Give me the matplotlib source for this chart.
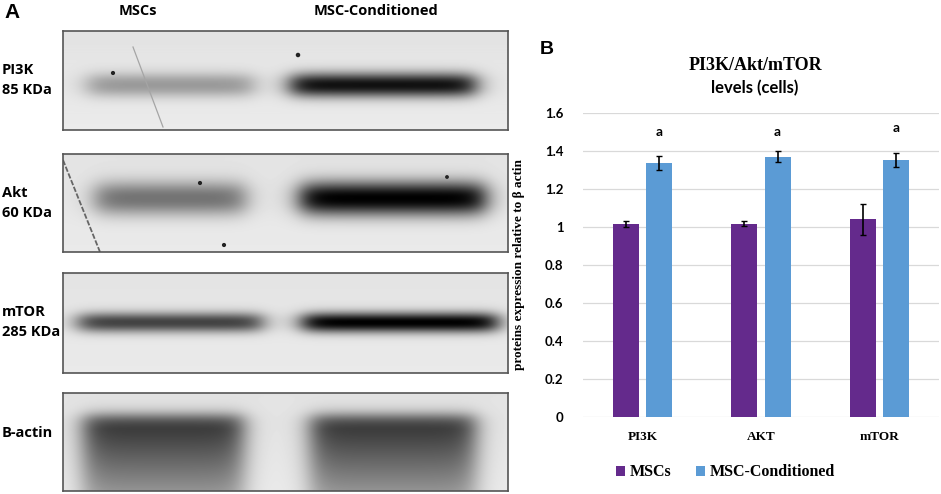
import matplotlib
matplotlib.use("Agg")
import matplotlib.pyplot as plt
import numpy as np

# Bar chart data (panel B)
targets = ["PI3K", "AKT", "mTOR"]
msc_values = [1.014, 1.017, 1.04]
msc_errors = [0.015, 0.012, 0.08]
cond_values = [1.338, 1.37, 1.354]
cond_errors = [0.036, 0.03, 0.037]
sig_letters = ["a", "a", "a"]
sig_heights = [1.50, 1.50, 1.52]
series_names = ["MSCs", "MSC-Conditioned"]

# Blot panel labels (panel A)
blot_labels = ["PI3K\n85 KDa", "Akt\n60 KDa", "mTOR\n285 KDa", "B-actin"]
lane_names = ["MSCs", "MSC-Conditioned"]
# band darkness for MSCs / MSC-Conditioned lanes
band_dark_msc = [0.30, 0.45, 0.64, 0.68]
band_dark_cond = [0.84, 0.9, 0.9, 0.68]

PURPLE = "#642A8C"
BLUE = "#5B9BD5"
W, H = 941, 494

fig = plt.figure(figsize=(W / 100, H / 100), dpi=100)


def rect(x0, y0, x1, y1):
    return [x0 / W, 1 - y1 / H, (x1 - x0) / W, (y1 - y0) / H]


# ---- Panel A: blots ----
panel_boxes = [(63, 31, 508, 130), (63, 154, 508, 252),
               (63, 273, 508, 373), (63, 393, 508, 491)]
# lane x-ranges and band centre/half-height inside each panel (pixels)
lanes_msc = [(87, 253), (95, 245), (78, 262), (83, 243)]
lanes_cond = [(290, 475), (300, 485), (302, 497), (310, 475)]
band_y = [(54, 12), (44, 17), (49, 10), (36, 14)]
label_y = [80, 203, 322, 433]


def sig(v):
    return 1.0 / (1.0 + np.exp(-v))


for i, (x0, y0, x1, y1) in enumerate(panel_boxes):
    pw, ph = x1 - x0, y1 - y0
    xx, yy = np.meshgrid(np.arange(pw), np.arange(ph))
    img = np.full((ph, pw), 0.89) + 0.03 * (yy / ph)
    yc, hh = band_y[i]
    for (lx0, lx1), dark in [(lanes_msc[i], band_dark_msc[i]),
                             (lanes_cond[i], band_dark_cond[i])]:
        lx0 -= x0
        lx1 -= x0
        sx = sig((xx - lx0) / 7.0) * sig((lx1 - xx) / 7.0)
        if i == 3:
            sy = sig((yy - (yc - hh)) / 4.0) * (1 - 0.5 * np.clip((yy - yc) / (ph - yc), 0, 1))
        else:
            sy = np.exp(-np.abs((yy - yc) / hh) ** 2.2)
        img = img - dark * sx * sy
    img = np.clip(img, 0, 1)
    ax = fig.add_axes(rect(x0, y0, x1, y1))
    ax.imshow(img, cmap="gray", vmin=0, vmax=1, aspect="auto",
              extent=[x0, x1, y1, y0], interpolation="bilinear")
    ax.set_xlim(x0, x1)
    ax.set_ylim(y1, y0)
    ax.set_xticks([])
    ax.set_yticks([])
    for s in ax.spines.values():
        s.set_color("#555555")
        s.set_linewidth(1.2)
    if i == 0:
        ax.plot([133, 163], [47, 127], color="#a5a5a5", lw=0.9)
        ax.scatter([113, 298], [73, 55], s=[4, 5], color="#222222", zorder=3)
    if i == 1:
        ax.plot([63, 100], [160, 252], color="#666666", lw=1.3, ls=(0, (3, 1)))
        ax.scatter([200, 224, 447], [183, 245, 177], s=[4, 4, 3], color="#222222", zorder=3)
    fig.text(2 / W, 1 - label_y[i] / H, blot_labels[i], ha="left", va="center",
             fontsize=10.5, fontweight="bold", family="Open Sans", linespacing=1.5)

fig.text(138 / W, 1 - 11 / H, lane_names[0], ha="center", va="center",
         fontsize=10.5, fontweight="bold", family="Open Sans")
fig.text(376 / W, 1 - 11 / H, lane_names[1], ha="center", va="center",
         fontsize=10.5, fontweight="bold", family="Open Sans")
fig.text(4 / W, 1 - 13 / H, "A", ha="left", va="center", fontsize=15,
         fontweight="bold", family="Liberation Sans")
fig.text(540 / W, 1 - 49 / H, "B", ha="left", va="center", fontsize=14,
         fontweight="bold", family="Liberation Sans")

# ---- Panel B: bar chart ----
ax = fig.add_axes(rect(583, 113, 939, 417))
x = np.arange(len(targets))
bw = 0.22
ax.bar(x - 0.14, msc_values, bw, yerr=msc_errors, color=PURPLE,
       label=series_names[0], error_kw=dict(ecolor="black", elinewidth=1.2, capsize=2.5, capthick=1))
ax.bar(x + 0.14, cond_values, bw, yerr=cond_errors, color=BLUE,
       label=series_names[1], error_kw=dict(ecolor="black", elinewidth=1.2, capsize=2.5, capthick=1))
for xi, letter, h in zip(x, sig_letters, sig_heights):
    ax.text(xi + 0.14, h, letter, ha="center", va="center", fontsize=10,
            fontweight="bold", family="Lato")

ax.set_xlim(-0.5, 2.5)
ax.set_ylim(0, 1.6)
yt = [0, 0.2, 0.4, 0.6, 0.8, 1.0, 1.2, 1.4, 1.6]
ax.set_yticks(yt)
ax.set_yticklabels(["0", "0.2", "0.4", "0.6", "0.8", "1", "1.2", "1.4", "1.6"],
                   fontsize=9.5, fontweight="bold", family="Lato")
ax.set_xticks(x)
ax.set_xticklabels(targets, fontsize=9.5, fontweight="bold", family="Liberation Serif")
ax.tick_params(length=0)
ax.tick_params(axis="y", pad=14)
ax.tick_params(axis="x", pad=10)
ax.grid(axis="y", color="#D9D9D9", lw=0.9)
ax.set_axisbelow(True)
for s in ax.spines.values():
    s.set_visible(False)
ax.set_ylabel("proteins expression relative to \u03b2 actin", fontsize=9.5,
              fontweight="bold", family="Liberation Serif", labelpad=14)

fig.text(755 / W, 1 - 65 / H, "PI3K/Akt/mTOR", ha="center", va="center",
         fontsize=13, fontweight="bold", family="Liberation Serif")
fig.text(755 / W, 1 - 88 / H, "levels (cells)", ha="center", va="center",
         fontsize=12, fontweight="bold", family="Lato")

leg = ax.legend(loc="center", bbox_to_anchor=(0.4, -0.182), ncol=2, frameon=False,
                prop=dict(family="Liberation Serif", weight="bold", size=11.5),
                handlelength=0.6, handleheight=0.6, handletextpad=0.3, columnspacing=1.5)

fig.savefig("out.png", dpi=100)
